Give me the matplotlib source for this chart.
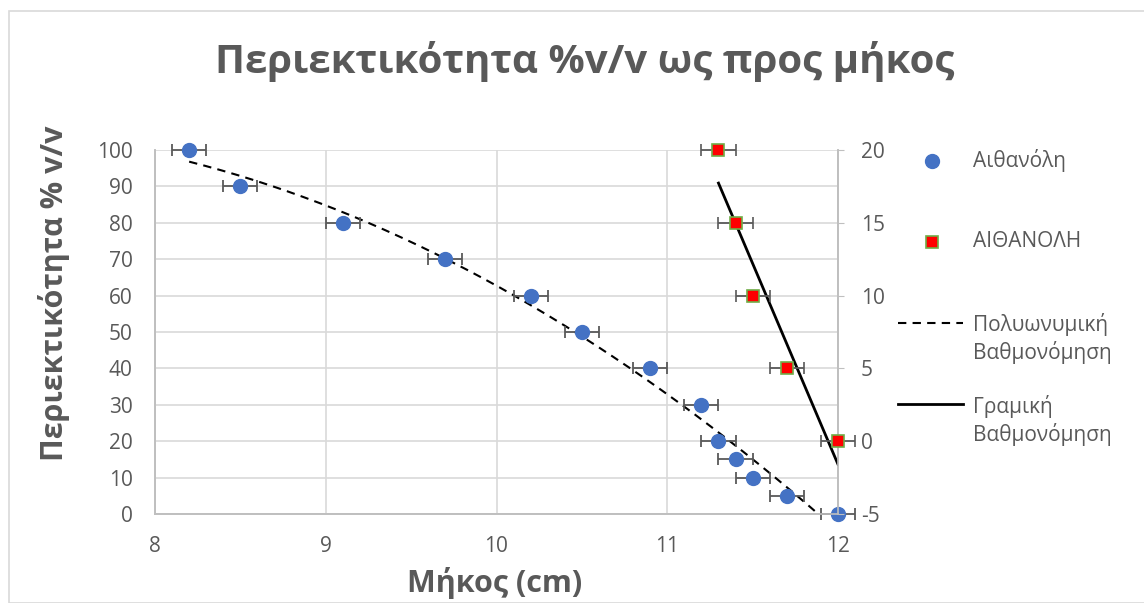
import numpy as np
import matplotlib
matplotlib.use("Agg")
import matplotlib.pyplot as plt
from matplotlib.lines import Line2D
from matplotlib.patches import Rectangle

# Data
length_blue = [8.2, 8.5, 9.1, 9.7, 10.2, 10.5, 10.9, 11.2, 11.3, 11.4, 11.5, 11.7, 12.0]
conc_blue = [100, 90, 80, 70, 60, 50, 40, 30, 20, 15, 10, 5, 0]
length_red = [11.3, 11.4, 11.5, 11.7, 12.0]
conc_red = [20, 15, 10, 5, 0]
x_err = 0.1

title = "Περιεκτικότητα %v/v ως προς μήκος"
xlabel = "Μήκος (cm)"
ylabel = "Περιεκτικότητα % v/v"
legend_labels = ["Αιθανόλη", "ΑΙΘΑΝΟΛΗ", "Πολυωνυμική\nΒαθμονόμηση", "Γραμική\nΒαθμονόμηση"]

plt.rcParams['font.family'] = ['Open Sans', 'DejaVu Sans']
plt.rcParams['axes.unicode_minus'] = False
gray = '#595959'
grid_c = '#d9d9d9'

fig = plt.figure(figsize=(11.44, 6.03), dpi=100)
W, H = 1144, 603
fig.add_artist(Rectangle((9 / W, 0), 1.2, 1 - 11 / H, transform=fig.transFigure,
                         fill=False, edgecolor='#d9d9d9', lw=1.2, clip_on=False))

ax = fig.add_axes([155 / W, 1 - 514 / H, (838 - 155) / W, (514 - 150) / H])
ax2 = ax.twinx()

ax.set_xlim(8, 12)
ax.set_ylim(0, 100)
ax.set_xticks([8, 9, 10, 11, 12])
ax.set_yticks(np.arange(0, 101, 10))
ax2.set_ylim(-5, 20)
ax2.set_yticks(np.arange(-5, 21, 5))

ax.grid(True, color=grid_c, lw=1.2)
ax.set_axisbelow(True)
for a in (ax, ax2):
    a.spines['top'].set_visible(False)
    for s in ('left', 'bottom', 'right'):
        a.spines[s].set_color('#bfbfbf')
        a.spines[s].set_linewidth(1.2)
ax.tick_params(axis='y', length=0, labelsize=15, labelcolor=gray, pad=16)
ax.tick_params(axis='x', length=0, labelsize=15, labelcolor=gray, pad=16)
ax2.tick_params(axis='y', length=4.5, color='#bfbfbf', labelsize=15, labelcolor=gray, pad=12)

# polynomial trendline (order 2) of blue series
coef = np.polyfit(length_blue, conc_blue, 2)
xs = np.linspace(min(length_blue), max(length_blue), 200)
ax.plot(xs, np.polyval(coef, xs), color='black', lw=1.5, ls=(0, (4, 3)), zorder=2)

ax.errorbar(length_blue, conc_blue, xerr=x_err, fmt='o', color='#4472C4', ms=10,
            ecolor=gray, elinewidth=1.3, capsize=4, capthick=1.3, zorder=3, clip_on=False)

# linear trendline of red series on secondary axis
lc = np.polyfit(length_red, conc_red, 1)
xl = np.array([min(length_red), max(length_red)])
ax2.plot(xl, np.polyval(lc, xl), color='black', lw=2, zorder=2)
ax2.errorbar(length_red, conc_red, xerr=x_err, fmt='s', mfc='#FF0000', mec='#70AD47', mew=1.2,
             ms=9, ecolor=gray, elinewidth=1.3, capsize=4, capthick=1.3, zorder=3, clip_on=False)

fig.text(585 / W, 1 - 62 / H, title, ha='center', va='center', fontsize=29,
         fontweight='bold', color=gray)
fig.text(495 / W, 1 - 583 / H, xlabel, ha='center', va='center', fontsize=22,
         fontweight='bold', color=gray)
fig.text(54 / W, 1 - 293 / H, ylabel, ha='center', va='center', fontsize=22,
         fontweight='bold', color=gray, rotation=90)

# legend
lx0, lx1, tx = 898 / W, 963 / W, 973 / W
fs = 15
fig.add_artist(Line2D([932 / W], [1 - 161 / H], marker='o', ms=10, color='#4472C4', ls='none'))
fig.text(tx, 1 - 161 / H, legend_labels[0], va='center', fontsize=fs, color=gray)
fig.add_artist(Line2D([932 / W], [1 - 242 / H], marker='s', ms=9, mfc='#FF0000', mec='#70AD47',
                      mew=1.2, ls='none'))
fig.text(tx, 1 - 242 / H, legend_labels[1], va='center', fontsize=fs, color=gray)
fig.add_artist(Line2D([lx0, lx1], [1 - 323 / H] * 2, color='black', lw=1.5, ls=(0, (4, 3))))
for i, line in enumerate(legend_labels[2].split('\n')):
    fig.text(tx, 1 - (325 + 28 * i) / H, line, va='center', fontsize=fs, color=gray)
fig.add_artist(Line2D([lx0, lx1], [1 - 404 / H] * 2, color='black', lw=2))
for i, line in enumerate(legend_labels[3].split('\n')):
    fig.text(tx, 1 - (406 + 28 * i) / H, line, va='center', fontsize=fs, color=gray)

fig.savefig('out.png', dpi=100)
